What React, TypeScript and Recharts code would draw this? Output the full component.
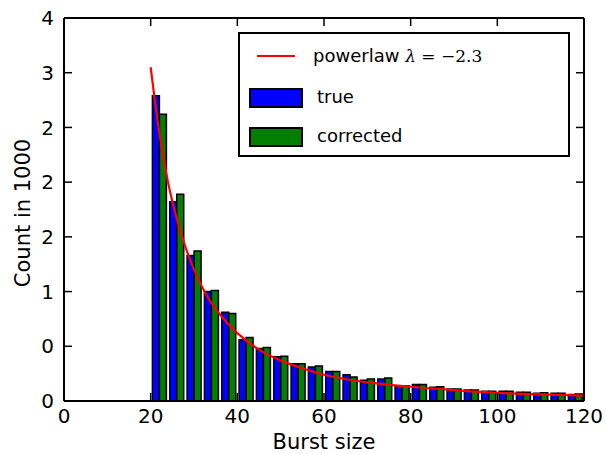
import React from 'react';
import { ComposedChart, Bar, Line, XAxis, YAxis, Legend } from 'recharts';

// histogram bins (left edge, width 4)
const binStarts = [0, 4, 8, 12, 16, 20, 24, 28, 32, 36, 40, 44, 48, 52, 56, 60, 64, 68, 72, 76, 80, 84, 88, 92, 96, 100, 104, 108, 112, 116];
const trueCounts = [0, 0, 0, 0, 0, 2.79, 1.82, 1.33, 1.0, 0.81, 0.56, 0.48, 0.405, 0.34, 0.31, 0.27, 0.24, 0.19, 0.2, 0.14, 0.15, 0.125, 0.11, 0.1, 0.09, 0.09, 0.08, 0.07, 0.07, 0.06];
const correctedCounts = [0, 0, 0, 0, 0, 2.62, 1.89, 1.37, 1.01, 0.8, 0.58, 0.49, 0.41, 0.34, 0.32, 0.27, 0.22, 0.2, 0.21, 0.14, 0.15, 0.13, 0.11, 0.1, 0.09, 0.09, 0.08, 0.075, 0.07, 0.065];

// fitted power law
const powerX = [20, 22, 24, 26, 28, 30, 33, 36, 40, 45, 50, 55, 60, 70, 80, 90, 100, 110, 120];
const powerY = [3.05, 2.45, 2.0, 1.67, 1.41, 1.2, 0.96, 0.79, 0.62, 0.47, 0.37, 0.3, 0.24, 0.17, 0.13, 0.1, 0.075, 0.06, 0.05];

const xTicks = [0, 20, 40, 60, 80, 100, 120];
const yTicks = [0, 0.5, 1, 1.5, 2, 2.5, 3, 3.5];
const yTickLabels = ['0', '0', '1', '2', '2', '2', '3', '4'];

const FONT = '"DejaVu Sans", sans-serif';
const TICK_LEN = 8;

const binData = binStarts.map((b, i) => ({ bin: b, trueCount: trueCounts[i], corrected: correctedCounts[i] }));
const powerData = powerX.map((x, i) => ({ x, y: powerY[i] }));

const BottomTick = (props: any) => {
  const { x, y, payload } = props;
  return (
    <g>
      <line x1={x} y1={y} x2={x} y2={y - TICK_LEN} stroke="#000" strokeWidth={1.5} />
      <text x={x} y={y + 22} textAnchor="middle" fontSize={20} fontFamily={FONT} fill="#000">
        {payload.value}
      </text>
    </g>
  );
};

const TopTick = (props: any) => {
  const { x, y } = props;
  return <line x1={x} y1={y} x2={x} y2={y + TICK_LEN} stroke="#000" strokeWidth={1.5} />;
};

const LeftTick = (props: any) => {
  const { x, y, payload, index } = props;
  return (
    <g>
      <line x1={x} y1={y} x2={x + TICK_LEN} y2={y} stroke="#000" strokeWidth={1.5} />
      <text x={x - 10} y={y} dy="0.36em" textAnchor="end" fontSize={20} fontFamily={FONT} fill="#000">
        {yTickLabels[index] ?? payload.value}
      </text>
    </g>
  );
};

const RightTick = (props: any) => {
  const { x, y } = props;
  return <line x1={x} y1={y} x2={x - TICK_LEN} y2={y} stroke="#000" strokeWidth={1.5} />;
};

const renderLegend = () => (
  <div
    style={{
      position: 'relative',
      width: 332,
      height: 125,
      boxSizing: 'border-box',
      border: '2px solid #000',
      background: '#fff',
      fontFamily: FONT,
      fontSize: 18,
      color: '#000',
    }}
  >
    <div style={{ position: 'absolute', left: 17, top: 21, width: 38, height: 2, background: '#ff0000' }} />
    <div style={{ position: 'absolute', left: 73, top: 9, lineHeight: '26px', whiteSpace: 'nowrap' }}>
      powerlaw{' '}
      <span style={{ fontFamily: '"DejaVu Serif", serif', fontSize: 17 }}>
        <i>λ</i> = −2.3
      </span>
    </div>
    <div style={{ position: 'absolute', left: 9, top: 54, width: 54, height: 20, boxSizing: 'border-box', border: '2px solid #000', background: '#0000ff' }} />
    <div style={{ position: 'absolute', left: 77, top: 50, lineHeight: '26px' }}>true</div>
    <div style={{ position: 'absolute', left: 9, top: 93, width: 54, height: 20, boxSizing: 'border-box', border: '2px solid #000', background: '#007f00' }} />
    <div style={{ position: 'absolute', left: 77, top: 89, lineHeight: '26px' }}>corrected</div>
  </div>
);

export default function App() {
  return (
    <div style={{ position: 'absolute', left: 0, top: 0, width: 606, height: 454, background: '#fff' }}>
      <ComposedChart
        width={606}
        height={454}
        data={binData}
        margin={{ top: 17, right: 21, bottom: 23, left: 14 }}
        barCategoryGap="10%"
        barGap={0}
      >
        <XAxis xAxisId="bins" dataKey="bin" type="category" height={0} hide />
        <XAxis
          xAxisId="num"
          dataKey="x"
          type="number"
          domain={[0, 120]}
          ticks={xTicks}
          allowDataOverflow
          height={30}
          tickSize={0}
          tickMargin={0}
          tick={<BottomTick />}
          axisLine={{ stroke: '#000', strokeWidth: 2 }}
          interval={0}
        />
        <XAxis
          xAxisId="top"
          orientation="top"
          dataKey="x"
          type="number"
          domain={[0, 120]}
          ticks={xTicks}
          allowDataOverflow
          height={1}
          tickSize={0}
          tickMargin={0}
          tick={<TopTick />}
          axisLine={{ stroke: '#000', strokeWidth: 2 }}
          interval={0}
        />
        <YAxis
          yAxisId="left"
          type="number"
          domain={[0, 3.5]}
          ticks={yTicks}
          allowDataOverflow
          width={50}
          tickSize={0}
          tickMargin={0}
          tick={<LeftTick />}
          axisLine={{ stroke: '#000', strokeWidth: 2 }}
          interval={0}
        />
        <YAxis
          yAxisId="right"
          orientation="right"
          type="number"
          domain={[0, 3.5]}
          ticks={yTicks}
          allowDataOverflow
          width={1}
          tickSize={0}
          tickMargin={0}
          tick={<RightTick />}
          axisLine={{ stroke: '#000', strokeWidth: 2 }}
          interval={0}
        />
        <Bar xAxisId="bins" yAxisId="left" dataKey="trueCount" fill="#0000ff" stroke="#000" strokeWidth={1.5} isAnimationActive={false} />
        <Bar xAxisId="bins" yAxisId="left" dataKey="corrected" fill="#007f00" stroke="#000" strokeWidth={1.5} isAnimationActive={false} />
        {/* invisible copy so the top/right frame axes get drawn */}
        <Line
          xAxisId="top"
          yAxisId="right"
          data={powerData}
          dataKey="y"
          stroke="none"
          dot={false}
          activeDot={false}
          legendType="none"
          isAnimationActive={false}
        />
        <Line
          xAxisId="num"
          yAxisId="left"
          data={powerData}
          dataKey="y"
          type="monotone"
          stroke="#ff0000"
          strokeWidth={2.2}
          dot={false}
          activeDot={false}
          isAnimationActive={false}
        />
        <Legend
          layout="vertical"
          align="center"
          verticalAlign="middle"
          content={renderLegend}
          wrapperStyle={{ left: 238, top: 32, width: 332, height: 125 }}
        />
        <text x={324} y={449} textAnchor="middle" fontSize={21} fontFamily={FONT} fill="#000">
          Burst size
        </text>
        <text x={30} y={213} transform="rotate(-90 30 213)" textAnchor="middle" fontSize={21} fontFamily={FONT} fill="#000">
          Count in 1000
        </text>
      </ComposedChart>
    </div>
  );
}
